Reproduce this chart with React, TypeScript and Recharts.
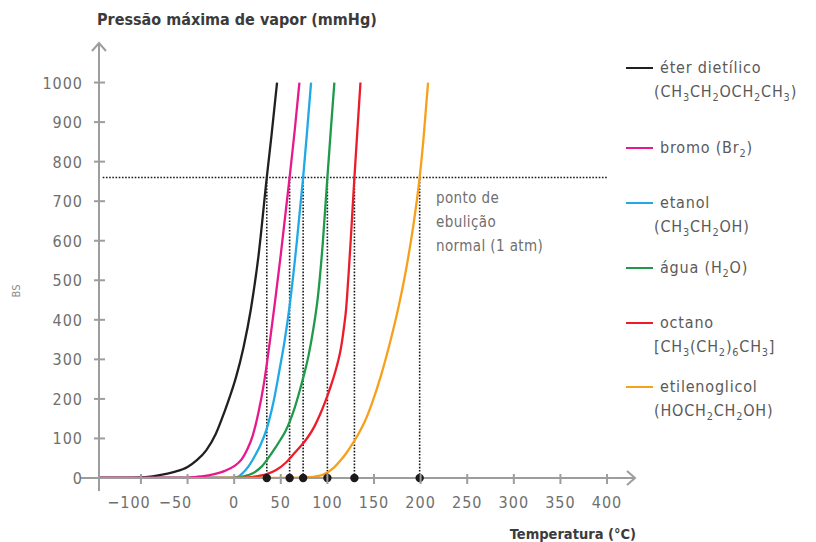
import React from "react";
import { LineChart, Line, XAxis, YAxis, ReferenceLine, ReferenceDot } from "recharts";

// temperature (°C) / vapour pressure (mmHg)
const eterDietilico = [
  { t: -145, p: 0 }, { t: -110, p: 0 }, { t: -95, p: 2 }, { t: -80, p: 7 }, { t: -65, p: 15 },
  { t: -50, p: 28 }, { t: -40, p: 45 }, { t: -30, p: 70 }, { t: -20, p: 110 }, { t: -10, p: 170 },
  { t: -4, p: 210 }, { t: 2, p: 255 }, { t: 10, p: 330 }, { t: 18, p: 428 }, { t: 26, p: 560 },
  { t: 35, p: 760 }, { t: 40, p: 865 }, { t: 46, p: 1000 },
];
const bromo = [
  { t: -145, p: 0 }, { t: -60, p: 0 }, { t: -40, p: 3 }, { t: -25, p: 8 }, { t: -10, p: 18 },
  { t: 0, p: 30 }, { t: 8, p: 47 }, { t: 14, p: 72 }, { t: 20, p: 108 }, { t: 26, p: 165 },
  { t: 32, p: 240 }, { t: 38, p: 340 }, { t: 44, p: 449 }, { t: 50, p: 565 }, { t: 59.5, p: 760 },
  { t: 65, p: 880 }, { t: 70, p: 1000 },
];
const etanol = [
  { t: -145, p: 0 }, { t: -10, p: 0 }, { t: 4, p: 3 }, { t: 8, p: 10 }, { t: 15, p: 28 },
  { t: 22, p: 55 }, { t: 28, p: 82 }, { t: 35, p: 125 }, { t: 42, p: 190 }, { t: 49, p: 278 },
  { t: 54, p: 345 }, { t: 60, p: 445 }, { t: 67, p: 592 }, { t: 74, p: 760 }, { t: 78, p: 870 },
  { t: 82.5, p: 1000 },
];
const agua = [
  { t: -145, p: 0 }, { t: 0, p: 0 }, { t: 10, p: 4 }, { t: 20, p: 12 }, { t: 30, p: 30 },
  { t: 40, p: 62 }, { t: 50, p: 98 }, { t: 55, p: 118 }, { t: 60, p: 145 }, { t: 65, p: 178 },
  { t: 70, p: 218 }, { t: 75, p: 262 }, { t: 80, p: 312 }, { t: 85, p: 378 }, { t: 90, p: 462 },
  { t: 95, p: 592 }, { t: 100, p: 760 }, { t: 104, p: 890 }, { t: 107.5, p: 1000 },
];
const octano = [
  { t: -145, p: 0 }, { t: 0, p: 0 }, { t: 20, p: 3 }, { t: 35, p: 10 }, { t: 45, p: 20 },
  { t: 55, p: 38 }, { t: 65, p: 64 }, { t: 72, p: 82 }, { t: 79, p: 103 }, { t: 86, p: 130 },
  { t: 92, p: 160 }, { t: 98, p: 195 }, { t: 104, p: 235 }, { t: 108, p: 265 }, { t: 112, p: 300 },
  { t: 114, p: 322 }, { t: 116, p: 350 }, { t: 118, p: 385 }, { t: 120, p: 425 }, { t: 121, p: 455 },
  { t: 123, p: 525 }, { t: 125, p: 600 }, { t: 127, p: 680 }, { t: 129, p: 760 }, { t: 132.5, p: 890 },
  { t: 135.5, p: 1000 },
];
const etilenoglicol = [
  { t: -18, p: 0 }, { t: 60, p: 0 }, { t: 80, p: 2 }, { t: 95, p: 8 }, { t: 107, p: 26 },
  { t: 114, p: 44 }, { t: 120, p: 62 }, { t: 126, p: 83 }, { t: 133, p: 110 }, { t: 140, p: 142 },
  { t: 148, p: 190 }, { t: 157, p: 255 }, { t: 168, p: 350 }, { t: 177, p: 440 }, { t: 185, p: 535 },
  { t: 192, p: 635 }, { t: 199, p: 760 }, { t: 203, p: 855 }, { t: 208, p: 1000 },
];

const seriesNames = ["éter dietílico", "bromo (Br_2)", "etanol", "água (H_2O)", "octano", "etilenoglicol"];
const seriesFormulas = ["(CH_3CH_2OCH_2CH_3)", "", "(CH_3CH_2OH)", "", "[CH_3(CH_2)_6CH_3]", "(HOCH_2CH_2OH)"];
const boilingPoints = [35, 59.5, 74, 100, 129, 199];
const normalPressure = 760;

const tempTicks = [-100, -50, 0, 50, 100, 150, 200, 250, 300, 350, 400];
const pressureTicks = [0, 100, 200, 300, 400, 500, 600, 700, 800, 900, 1000];

const seriesData = [eterDietilico, bromo, etanol, agua, octano, etilenoglicol];
const colors = ["#231f20", "#e8198b", "#1fa9e6", "#1f9a4b", "#ec1c2a", "#f8a01b"];
const drawOrder = [0, 2, 3, 4, 1, 5];
const legendCentres = [68, 148, 203, 268, 323, 387];

const FONT = "'DejaVu Sans Condensed', 'DejaVu Sans', sans-serif";
const AXIS = "#9d9d9d";
const DOTS = "#1a1a1a";

function chem(s: string) {
  const out: React.ReactNode[] = [];
  let buf = "";
  for (let i = 0; i < s.length; i++) {
    if (s[i] === "_") {
      if (buf) out.push(buf);
      buf = "";
      out.push(
        <span key={i} style={{ fontSize: "0.68em", position: "relative", top: "0.35em" }}>
          {s[i + 1]}
        </span>
      );
      i++;
    } else buf += s[i];
  }
  if (buf) out.push(buf);
  return out;
}

const XTick = (props: any) => {
  const { x, y, payload } = props;
  const v = payload.value as number;
  return (
    <g>
      <line x1={x} x2={x} y1={y - 4} y2={y + 6} stroke={AXIS} strokeWidth={2} />
      <text x={v < 0 ? x - 12 : x} y={y + 30} textAnchor="middle" fill="#6f6f6f" fontSize={16} letterSpacing={1} fontFamily={FONT}>
        {v < 0 ? "\u2212" + Math.abs(v) : v}
      </text>
    </g>
  );
};

const YTick = (props: any) => {
  const { x, y, payload } = props;
  return (
    <g>
      <line x1={x - 5} x2={x + 6} y1={y} y2={y} stroke={AXIS} strokeWidth={2} />
      <text x={x - 16} y={y + 6} textAnchor="end" fill="#6f6f6f" fontSize={16} letterSpacing={1} fontFamily={FONT}>
        {payload.value}
      </text>
    </g>
  );
};

export default function App() {
  return (
    <div style={{ position: "absolute", left: 0, top: 0, width: 816, height: 542, background: "#fff", fontFamily: FONT }}>
      <LineChart width={816} height={542} margin={{ top: 43, right: 181, bottom: 0, left: 39 }}>
        <defs>
          <marker id="axisArrow" viewBox="-10 -10 20 20" refX="0" refY="0" markerWidth="20" markerHeight="20" orient="auto-start-reverse" markerUnits="userSpaceOnUse">
            <path d="M-8,-7 L0,0 L-8,7" fill="none" stroke={AXIS} strokeWidth={2} />
          </marker>
        </defs>
        <XAxis
          type="number"
          dataKey="t"
          domain={[-145, 430]}
          ticks={tempTicks}
          interval={0}
          height={64}
          tickSize={0}
          tickMargin={0}
          tick={<XTick />}
          axisLine={{ stroke: AXIS, strokeWidth: 2, markerEnd: "url(#axisArrow)" }}
          allowDataOverflow
        />
        <YAxis
          type="number"
          dataKey="p"
          domain={[0, 1100]}
          ticks={pressureTicks}
          interval={0}
          width={60}
          tickSize={0}
          tickMargin={0}
          tick={<YTick />}
          axisLine={{ stroke: AXIS, strokeWidth: 2, markerStart: "url(#axisArrow)" }}
          allowDataOverflow
        />
        <ReferenceLine segment={[{ x: -165, y: 0 }, { x: -145, y: 0 }]} stroke={AXIS} strokeWidth={2} ifOverflow="visible" />
        <ReferenceLine segment={[{ x: -145, y: 0 }, { x: -145, y: -33 }]} stroke={AXIS} strokeWidth={2} ifOverflow="visible" />
        <ReferenceLine
          segment={[{ x: -141, y: normalPressure }, { x: 400, y: normalPressure }]}
          stroke={DOTS}
          strokeWidth={1.6}
          strokeDasharray="1.6 1.6"
        />
        {boilingPoints.map((bp) => (
          <ReferenceLine
            key={"v" + bp}
            segment={[{ x: bp, y: 0 }, { x: bp, y: normalPressure }]}
            stroke={DOTS}
            strokeWidth={1.6}
            strokeDasharray="1.6 1.6"
          />
        ))}
        {drawOrder.map((i) => (
          <Line
            key={seriesNames[i]}
            data={seriesData[i]}
            dataKey="p"
            type="monotone"
            stroke={colors[i]}
            strokeWidth={2.3}
            dot={false}
            activeDot={false}
            isAnimationActive={false}
          />
        ))}
        {boilingPoints.map((bp) => (
          <ReferenceDot key={"d" + bp} x={bp} y={0} r={4.2} fill={DOTS} stroke="none" ifOverflow="visible" />
        ))}
        <text x={97} y={25} fill="#3b3b3b" fontSize={16} fontWeight="bold" fontFamily={FONT}>
          Pressão máxima de vapor (mmHg)
        </text>
        <text x={636} y={539} textAnchor="end" fill="#3b3b3b" fontSize={14.5} fontWeight="bold" fontFamily={FONT}>
          Temperatura (°C)
        </text>
        <text fill="#6f6f6f" fontSize={15} fontFamily={FONT} letterSpacing={0.4}>
          <tspan x={436} y={203}>ponto de</tspan>
          <tspan x={436} y={227}>ebulição</tspan>
          <tspan x={436} y={251}>normal (1 atm)</tspan>
        </text>
        <text x={17} y={291} transform="rotate(-90 17 291)" textAnchor="middle" dominantBaseline="middle" fill="#8a8a8a" fontSize={11} fontFamily={FONT}>
          BS
        </text>
      </LineChart>
      <div style={{ position: "absolute", left: 626, top: 0, color: "#5a5a5a", fontSize: 16, letterSpacing: 0.8 }}>
        {seriesNames.map((name, i) => (
          <div key={name} style={{ position: "absolute", left: 0, top: legendCentres[i] - 12, display: "flex", whiteSpace: "nowrap" }}>
            <span style={{ display: "inline-block", width: 27, height: 0, borderTop: `2.5px solid ${colors[i]}`, marginTop: 11, marginRight: 7 }} />
            <div>
              <div style={{ height: 24, lineHeight: "24px" }}>{chem(name)}</div>
              {seriesFormulas[i] && <div style={{ marginLeft: -6, lineHeight: "24px" }}>{chem(seriesFormulas[i])}</div>}
            </div>
          </div>
        ))}
      </div>
    </div>
  );
}
